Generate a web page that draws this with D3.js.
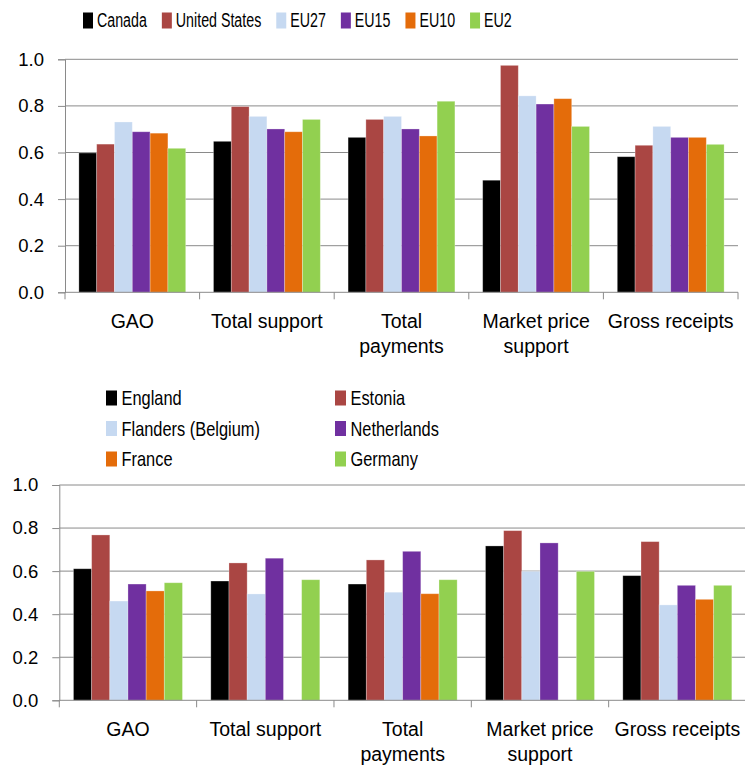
<!DOCTYPE html>
<html>
<head>
<meta charset="utf-8">
<style>
  body { margin: 0; background: #fff; }
  text { font-family: "Liberation Sans", Arial, sans-serif; fill: #000; }
</style>
</head>
<body>
<svg width="745" height="770"></svg>
<script src="https://d3js.org/d3.v7.min.js"></script>
<script>
// categories (label lines)
var categories = ["GAO", "Total support", "Total payments", "Market price support", "Gross receipts"];
var categoryLines = [["GAO"], ["Total support"], ["Total", "payments"], ["Market price", "support"], ["Gross receipts"]];
var yTicks = [0, 0.2, 0.4, 0.6, 0.8, 1.0];

// top chart
var topSeries = ["Canada", "United States", "EU27", "EU15", "EU10", "EU2"];
var canada       = [0.598, 0.648, 0.665, 0.481, 0.582];
var unitedStates = [0.636, 0.797, 0.742, 0.974, 0.631];
var eu27         = [0.731, 0.755, 0.755, 0.843, 0.712];
var eu15         = [0.689, 0.701, 0.701, 0.808, 0.665];
var eu10         = [0.683, 0.689, 0.671, 0.831, 0.665];
var eu2          = [0.618, 0.742, 0.820, 0.712, 0.635];
var topValues = [canada, unitedStates, eu27, eu15, eu10, eu2];

// bottom chart
var bottomSeries = ["England", "Estonia", "Flanders (Belgium)", "Netherlands", "France", "Germany"];
var england     = [0.611, 0.554, 0.540, 0.717, 0.579];
var estonia     = [0.768, 0.638, 0.652, 0.788, 0.737];
var flanders    = [0.461, 0.494, 0.502, 0.599, 0.443];
var netherlands = [0.540, 0.660, 0.692, 0.731, 0.534];
var france      = [0.508, null, 0.495, null, 0.469];
var germany     = [0.546, 0.560, 0.560, 0.599, 0.534];
var bottomValues = [england, estonia, flanders, netherlands, france, germany];

var colors = ["#000000", "#AA4643", "#C6D9F1", "#7030A0", "#E46C0A", "#92D050"];

var svg = d3.select("svg");

function drawChart(opt) {
  var x0 = d3.scaleBand().domain(categories).range([opt.left, opt.right]);
  var x1 = d3.scaleBand().domain(d3.range(opt.series.length))
      .range([0, x0.bandwidth()]).paddingInner(0).paddingOuter(0.78);
  var y = d3.scaleLinear().domain([0, 1]).range([opt.bottom, opt.top]);

  var g = svg.append("g");

  // gridlines
  g.append("g").selectAll("line")
    .data(yTicks.slice(1))
    .enter().append("line")
      .attr("x1", opt.left).attr("x2", opt.right)
      .attr("y1", function(d) { return y(d); })
      .attr("y2", function(d) { return y(d); })
      .attr("stroke", "#8a8a8a").attr("stroke-width", 1);

  // bars
  var rows = [];
  opt.values.forEach(function(vals, si) {
    vals.forEach(function(v, ci) {
      if (v != null) rows.push({s: si, c: categories[ci], v: v});
    });
  });
  g.append("g").selectAll("rect")
    .data(rows)
    .enter().append("rect")
      .attr("x", function(d) { return x0(d.c) + x1(d.s); })
      .attr("width", x1.bandwidth())
      .attr("y", function(d) { return y(d.v); })
      .attr("height", function(d) { return y(0) - y(d.v); })
      .attr("fill", function(d) { return colors[d.s]; })
      .attr("stroke", "rgba(255,255,255,0.35)")
      .attr("stroke-width", 0.8);

  // y axis
  var ya = g.append("g")
    .attr("transform", "translate(" + opt.left + ",0)")
    .call(d3.axisLeft(y).tickValues(yTicks).tickFormat(d3.format(".1f")).tickSize(7).tickPadding(14));
  ya.select(".domain").attr("stroke", "#8a8a8a");
  ya.selectAll(".tick line").attr("stroke", "#8a8a8a");
  ya.selectAll(".tick text").attr("font-size", 18.5).attr("font-family", "Liberation Sans, Arial, sans-serif");

  // x axis line and boundary ticks
  g.append("line")
    .attr("x1", opt.left).attr("x2", opt.right)
    .attr("y1", y(0)).attr("y2", y(0))
    .attr("stroke", "#8a8a8a");
  var bounds = categories.map(function(c) { return x0(c); }).concat([opt.right]);
  g.append("g").selectAll("line")
    .data(bounds)
    .enter().append("line")
      .attr("x1", function(d) { return d; }).attr("x2", function(d) { return d; })
      .attr("y1", y(0)).attr("y2", y(0) + 7)
      .attr("stroke", "#8a8a8a");

  // category labels
  var lab = g.append("g").selectAll("text")
    .data(categories)
    .enter().append("text")
      .attr("text-anchor", "middle")
      .attr("font-size", 19.5)
      .attr("x", function(d) { return x0(d) + x0.bandwidth() / 2; })
      .attr("y", y(0) + 36);
  lab.each(function(d, i) {
    var t = d3.select(this);
    categoryLines[i].forEach(function(line, li) {
      t.append("tspan")
        .attr("x", x0(d) + x0.bandwidth() / 2)
        .attr("dy", li === 0 ? 0 : 25)
        .text(line);
    });
  });
}

// top chart
drawChart({series: topSeries, values: topValues, left: 65, right: 738, top: 59.3, bottom: 292.3});
// bottom chart
drawChart({series: bottomSeries, values: bottomValues, left: 59.3, right: 746, top: 485, bottom: 700.3});

// legend text is condensed in the original, so squeeze it horizontally
function legendText(parent, x, y, size, sx, name) {
  var t = parent.append("text")
    .attr("transform", "translate(" + x + "," + y + ") scale(" + sx + ",1)")
    .attr("font-size", size)
    .text(name);
  return t.node().getComputedTextLength() * sx;
}

// top legend: one row
var leg1 = svg.append("g");
var lx = 83;
topSeries.forEach(function(name, i) {
  leg1.append("rect").attr("x", lx).attr("y", 12.5).attr("width", 10).attr("height", 16).attr("fill", colors[i]);
  var w = legendText(leg1, lx + 14, 27, 19.5, 0.73, name);
  lx += 14 + w + 15;
});

// bottom legend: two columns, three rows
var leg2 = svg.append("g");
var colX = [106, 335];
bottomSeries.forEach(function(name, i) {
  var cx = colX[i % 2], ry = 390.5 + Math.floor(i / 2) * 30.5;
  leg2.append("rect").attr("x", cx).attr("y", ry).attr("width", 11).attr("height", 15).attr("fill", colors[i]);
  legendText(leg2, cx + 15.5, ry + 14.5, 20.5, 0.8, name);
});
</script>
</body>
</html>
